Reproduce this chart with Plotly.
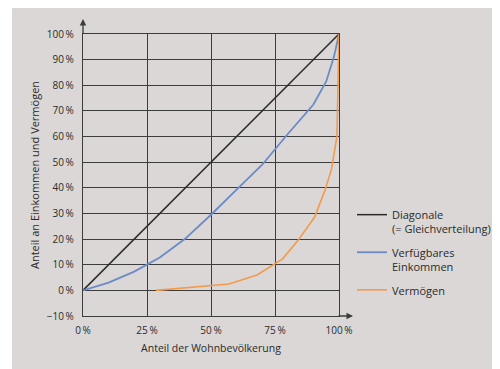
import plotly.graph_objects as go

# ---- data ----
diag_x = [0, 100]
diag_y = [0, 100]

income_x = [0, 10, 20, 25, 30, 40, 50, 60, 70, 80, 90, 95, 98, 100]
income_y = [0, 3, 7.3, 10, 12.8, 20.2, 29.5, 39.3, 49, 61, 72.5, 81.5, 91, 100]

wealth_x = [28.5, 45, 57, 68, 78, 84, 90.5, 94.5, 97, 99.2, 100]
wealth_y = [0, 1.5, 2.5, 6, 12.3, 19.5, 28.6, 39, 47, 60, 100]

x_ticks = [0, 25, 50, 75, 100]
x_ticklabels = ["0\u2009%", "25\u2009%", "50\u2009%", "75\u2009%", "100\u2009%"]
y_ticks = [-10, 0, 10, 20, 30, 40, 50, 60, 70, 80, 90, 100]
y_ticklabels = ["\u221210\u2009%", "0\u2009%", "10\u2009%", "20\u2009%", "30\u2009%", "40\u2009%",
                "50\u2009%", "60\u2009%", "70\u2009%", "80\u2009%", "90\u2009%", "100\u2009%"]

names = ["Diagonale<br>(= Gleichverteilung)", "Verfügbares<br>Einkommen", "Vermögen"]
colors = ["#2a2a2a", "#6b8bc6", "#f39a4c"]

BG = "#dad7d6"
TXT = "#2b2b2b"
GRID = "#3c3c3c"
FONT = "Open Sans"

fig = go.Figure()
fig.add_trace(go.Scatter(x=diag_x, y=diag_y, mode="lines", name=names[0], legendgroup="a",
                         line=dict(color=colors[0], width=1.5)))
fig.add_trace(go.Scatter(x=income_x, y=income_y, mode="lines", name=names[1], legendgroup="b",
                         line=dict(color=colors[1], width=1.8)))
fig.add_trace(go.Scatter(x=wealth_x, y=wealth_y, mode="lines", name=names[2], legendgroup="c",
                         line=dict(color=colors[2], width=1.6)))

# page body has an 8px margin; figure fills the rest of the 500x369 window
OFF = 8
W, H = 500 - OFF, 369 - OFF
ml, mt = 83 - OFF, 34 - OFF
mr = W - (339 - OFF)
mb = H - (316 - OFF)
pw, ph = W - ml - mr, H - mt - mb


def sx(px):  # screen x -> paper
    return (px - OFF - ml) / pw


def sy(py):  # screen y -> paper
    return (H - mb - (py - OFF)) / ph


# background panel (white strip at left)
fig.add_shape(type="rect", xref="paper", yref="paper",
              x0=sx(12), x1=sx(510), y0=sy(380), y1=sy(0),
              fillcolor=BG, line=dict(width=0), layer="below")

# axis arrows
fig.add_annotation(xref="paper", yref="paper", x=0, y=sy(19),
                   ax=0, ay=16, axref="pixel", ayref="pixel", showarrow=True,
                   arrowhead=2, arrowsize=1, arrowwidth=1.3, arrowcolor=GRID, text="")
fig.add_annotation(xref="paper", yref="paper", x=sx(353), y=0,
                   ax=-16, ay=0, axref="pixel", ayref="pixel", showarrow=True,
                   arrowhead=2, arrowsize=1, arrowwidth=1.3, arrowcolor=GRID, text="")

axis_common = dict(showgrid=True, gridcolor=GRID, gridwidth=1.2, zeroline=False,
                   showline=True, linecolor=GRID, linewidth=1.2, mirror=True,
                   ticks="", automargin=False, fixedrange=True,
                   tickfont=dict(size=10, color=TXT))

fig.update_layout(
    width=W, height=H,
    margin=dict(l=ml, r=mr, t=mt, b=mb, autoexpand=False),
    paper_bgcolor="white",
    plot_bgcolor=BG,
    font=dict(family=FONT, size=10, color=TXT),
    showlegend=True,
    legend=dict(x=sx(352), xanchor="left", y=sy(201), yanchor="top",
                bgcolor="rgba(0,0,0,0)", font=dict(family=FONT, size=11, color=TXT),
                tracegroupgap=6, valign="top", traceorder="grouped"),
    xaxis=dict(range=[0, 100], tickvals=x_ticks, ticktext=x_ticklabels,
               ticklabelstandoff=5,
               title=dict(text="Anteil der Wohnbevölkerung", font=dict(size=10.5, color=TXT), standoff=8),
               **axis_common),
    yaxis=dict(range=[-10, 100], tickvals=y_ticks, ticktext=y_ticklabels,
               ticklabelstandoff=6,
               title=dict(text="Anteil an Einkommen und Vermögen", font=dict(size=11, color=TXT), standoff=4),
               **axis_common),
)

fig.write_html("out.html")
